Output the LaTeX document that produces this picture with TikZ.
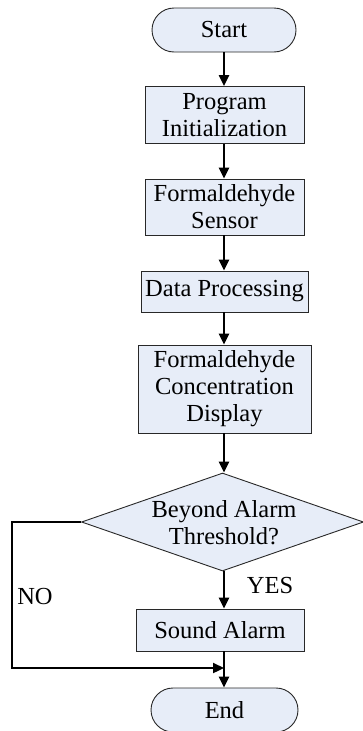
\documentclass[tikz,border=0pt]{standalone}
\usepackage{fontspec}
\setmainfont{Liberation Serif}
\usetikzlibrary{shapes.geometric,shapes.misc,arrows.meta}
\definecolor{boxfill}{RGB}{231,237,248}
\definecolor{boxline}{RGB}{40,40,40}
\tikzset{
  base/.style={draw=boxline, fill=boxfill, line width=0.9pt, inner sep=0pt, align=center, font=\fontsize{24.5}{27}\selectfont},
  proc/.style={base, rectangle},
  term/.style={base, rounded rectangle},
  dec/.style={base, diamond},
  arr/.style={line width=2.3pt, -{Triangle[length=11pt,width=10pt]}},
  lbl/.style={font=\fontsize{24.5}{27}\selectfont, inner sep=0pt, align=center}
}
\begin{document}
\begin{tikzpicture}[x=1pt,y=-1pt]
\useasboundingbox (0,0) rectangle (363,731);
\node[term, minimum width=144pt, minimum height=44pt] (start) at (224,30) {Start};
\node[proc, minimum width=159pt, minimum height=57pt] (init) at (224.5,115) {Program\\Initialization};
\node[proc, minimum width=159pt, minimum height=56pt] (sensor) at (224.5,207) {Formaldehyde\\Sensor};
\node[proc, minimum width=167pt, minimum height=41pt] (data) at (224.5,291.5) {Data Processing};
\node[proc, minimum width=173pt, minimum height=88pt] (disp) at (224.5,389) {Formaldehyde\\Concentration\\Display};
\node[dec, minimum width=282pt, minimum height=98pt] (thr) at (222.5,522) {};
\node[lbl] (thrtext) at (224,523) {Beyond Alarm\\Threshold?};
\node[proc, minimum width=168pt, minimum height=42pt] (alarm) at (220,630) {Sound Alarm};
\node[term, minimum width=147pt, minimum height=44pt] (end) at (224.5,710) {End};
\coordinate (nl) at (12,522);
\coordinate (nb) at (12,668);
\coordinate (join) at (224,668);
\draw[arr] (start.south -| 224,0) -- (init.north -| 224,0);
\draw[arr] (init.south -| 224,0) -- (sensor.north -| 224,0);
\draw[arr] (sensor.south -| 224,0) -- (data.north -| 224,0);
\draw[arr] (data.south -| 224,0) -- (disp.north -| 224,0);
\draw[arr] (disp.south -| 224,0) -- (thr.north -| 224,0);
\draw[arr] (thr.south -| 224,0) -- (alarm.north -| 224,0);
\draw[arr] (alarm.south -| 224,0) -- (end.north -| 224,0);
\draw[line width=2.3pt, line join=miter] (thr.west) -- (nl) -- (nb) -- ([xshift=-10pt]join);
\draw[arr] (nb) -- (join);
\node[lbl] (no) at (35,597) {NO};
\node[lbl] (yes) at (270,586) {YES};
\end{tikzpicture}
\end{document}
